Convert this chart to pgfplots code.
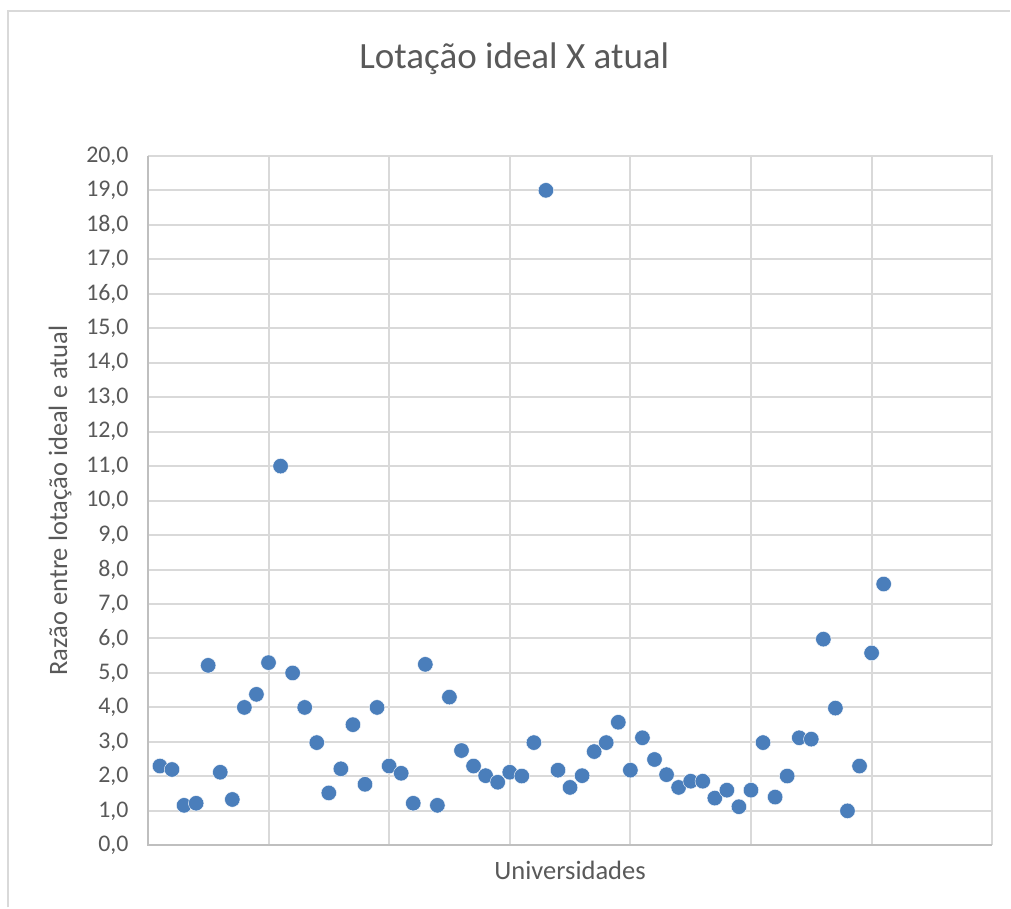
\documentclass[border=0pt]{standalone}
\usepackage{fontspec}
\setmainfont{Carlito}
\usepackage{pgfplots}
\pgfplotsset{compat=1.18}
\definecolor{ptblue}{RGB}{74,126,187}
\definecolor{txtgray}{RGB}{89,89,89}
\definecolor{gridgray}{RGB}{217,217,217}
\definecolor{axgray}{RGB}{191,191,191}

\pgfplotstableread{
x y
1 2.3
2 2.2
3 1.16
4 1.22
5 5.22
6 2.12
7 1.33
8 4.0
9 4.38
10 5.3
11 11.0
12 5.0
13 4.0
14 2.98
15 1.52
16 2.22
17 3.5
18 1.77
19 4.0
20 2.3
21 2.09
22 1.22
23 5.25
24 1.16
25 4.3
26 2.75
27 2.3
28 2.02
29 1.83
30 2.12
31 2.01
32 2.98
33 19.0
34 2.18
35 1.68
36 2.02
37 2.72
38 2.98
39 3.57
40 2.18
41 3.12
42 2.49
43 2.05
44 1.68
45 1.86
46 1.86
47 1.37
48 1.6
49 1.12
50 1.6
51 2.98
52 1.4
53 2.01
54 3.12
55 3.08
56 5.98
57 3.98
58 1.0
59 2.3
60 5.58
61 7.58
}\lotacao

\begin{document}
\begin{tikzpicture}[x=1pt,y=1pt]
% page frame (1px = 0.75pt)
\path (0,0) rectangle (758.25,681);
\draw[gridgray, line width=1.2pt] (6,0) -- (6,672.75) -- (758.25,672.75);
\begin{axis}[
  at={(111pt,46.5pt)}, anchor=south west,
  scale only axis,
  width=633.75pt, height=517.5pt,
  xmin=0, xmax=70, ymin=0, ymax=20,
  xtick={0,10,...,70}, xticklabels={},
  ytick={0,1,...,20},
  major tick length=0pt,
  grid=major,
  major grid style={gridgray, line width=1.5pt},
  axis line style={draw=none},
  axis x line*=bottom, axis y line*=left,
  /pgf/number format/.cd, fixed, fixed zerofill, precision=1, use comma,
    assume math mode=true,
  /pgfplots/.cd,
  yticklabel style={font=\fontsize{17.9}{20}\selectfont, text=txtgray,
    anchor=east, xshift=-11pt},
  title={Lotação ideal X atual},
  title style={font=\fontsize{27.8}{32}\selectfont, text=txtgray,
    at={(axis description cs:0.434,1.129)}, anchor=center},
  xlabel={Universidades},
  xlabel style={font=\fontsize{19.9}{23}\selectfont, text=txtgray,
    at={(axis description cs:0.5,-0.036)}, anchor=center},
  ylabel={Razão entre lotação ideal e atual},
  ylabel style={font=\fontsize{19.9}{23}\selectfont, text=txtgray,
    at={(axis description cs:-0.104,0.5)}, anchor=center},
  clip=false,
]
\draw[gridgray, line width=1.5pt] (rel axis cs:1,0) -- (rel axis cs:1,1) -- (rel axis cs:0,1);
\draw[axgray, line width=1.5pt] (rel axis cs:0,1) -- (rel axis cs:0,0) -- (rel axis cs:1,0);
\addplot[only marks, mark=*, mark size=5.8pt,
  mark options={fill=ptblue, draw=white, line width=0.3pt}]
  table[x=x, y=y] {\lotacao};
\end{axis}
\end{tikzpicture}
\end{document}
